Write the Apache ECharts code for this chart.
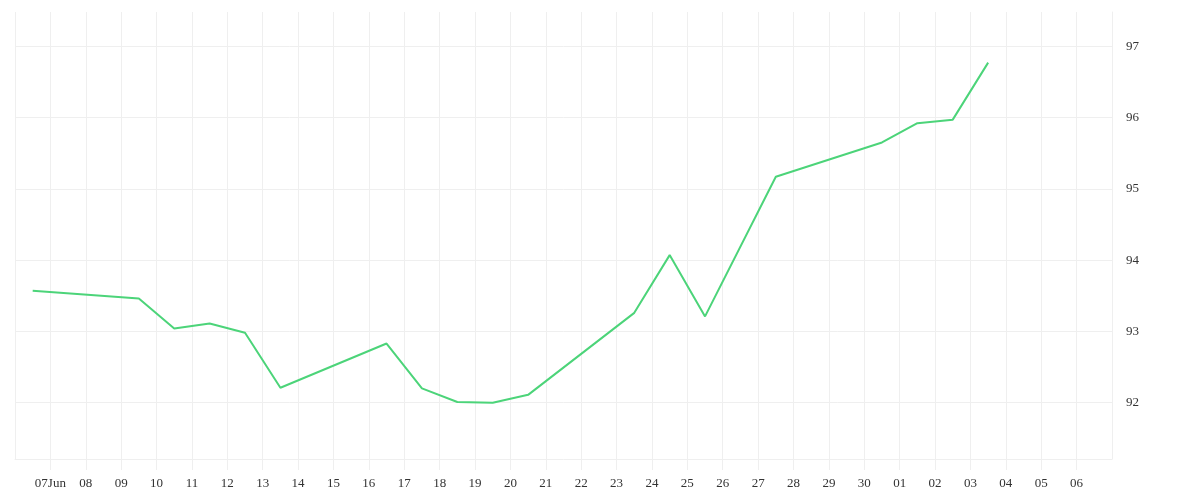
<!DOCTYPE html>
<html>
<head>
<meta charset="utf-8">
<script src="https://cdn.jsdelivr.net/npm/echarts@6/dist/echarts.min.js"></script>
<style>
  html, body { margin: 0; padding: 0; background: #fff; }
  #main { width: 1200px; height: 500px; }
</style>
</head>
<body>
<div id="main"></div>
<script>
const DAY = 86400000

// point dates (values are taken at midday)
const dates = [
  '2022-06-06', '2022-06-09', '2022-06-10', '2022-06-11', '2022-06-12',
  '2022-06-13', '2022-06-16', '2022-06-17', '2022-06-18', '2022-06-19',
  '2022-06-20', '2022-06-23', '2022-06-24', '2022-06-25', '2022-06-27',
  '2022-06-30', '2022-07-01', '2022-07-02', '2022-07-03'
]
const values = [
  93.57, 93.46, 93.04, 93.11, 92.98,
  92.21, 92.83, 92.20, 92.01, 92.00,
  92.11, 93.26, 94.07, 93.21, 95.17,
  95.65, 95.92, 95.97, 96.77
]
const yTicks = [92, 93, 94, 95, 96, 97]
const xStart = '2022-06-06'
const xEnd = '2022-07-07'

function toMs(d) {
  const p = d.split('-').map(Number)
  return Date.UTC(p[0], p[1] - 1, p[2])
}

const monthNames = ['Jan', 'Feb', 'Mar', 'Apr', 'May', 'Jun', 'Jul', 'Aug', 'Sep', 'Oct', 'Nov', 'Dec']
const firstLabel = toMs(xStart) + DAY

let chart = echarts.init(document.querySelector('#main'))

let option = {
  animation: false,
  grid: {
    left: 15,
    right: 88,
    top: 12,
    bottom: 41
  },
  xAxis: {
    type: 'value',
    min: toMs(xStart),
    max: toMs(xEnd),
    interval: DAY,
    axisLine: { show: true, lineStyle: { color: '#efefef', width: 1 } },
    axisTick: { show: true, length: 11, lineStyle: { color: '#efefef' } },
    splitLine: { show: true, lineStyle: { color: '#efefef', width: 1 } },
    axisLabel: {
      margin: 18,
      showMinLabel: false,
      showMaxLabel: false,
      color: '#333',
      fontFamily: 'Liberation Serif',
      fontSize: 13,
      formatter: function (v) {
        const d = new Date(v)
        const dd = String(d.getUTCDate()).padStart(2, '0')
        return v === firstLabel ? dd + monthNames[d.getUTCMonth()] : dd
      }
    }
  },
  yAxis: {
    type: 'value',
    position: 'right',
    min: 91.21,
    max: 97.48,
    axisLine: { show: true, lineStyle: { color: '#efefef', width: 1 } },
    axisTick: { show: false, customValues: yTicks },
    splitLine: { show: true, lineStyle: { color: '#efefef', width: 1 } },
    axisLabel: {
      customValues: yTicks,
      margin: 14,
      color: '#333',
      fontFamily: 'Liberation Serif',
      fontSize: 13
    }
  },
  series: [
    {
      type: 'line',
      showSymbol: false,
      symbol: 'none',
      lineStyle: { color: '#4cd479', width: 2 },
      data: dates.map((d, i) => [toMs(d) + DAY / 2, values[i]])
    }
  ]
}
chart.setOption(option)
</script>
</body>
</html>
